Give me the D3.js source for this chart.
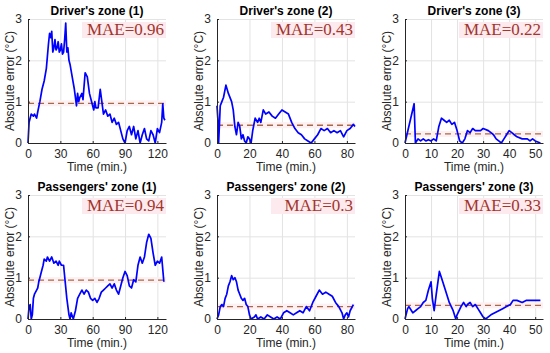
<!DOCTYPE html>
<html lang="en">
<head>
<meta charset="UTF-8">
<title>Absolute error per zone</title>
<script src="https://cdn.jsdelivr.net/npm/d3@7"></script>
<style>
  body { margin: 0; background: #fff; }
  text { font-family: "Liberation Sans", Arial, sans-serif; }
</style>
</head>
<body>
<script>
// panel titles, MAE values and x ranges (row by row)
var titles = ["Driver's zone (1)", "Driver's zone (2)", "Driver's zone (3)",
              "Passengers' zone (1)", "Passengers' zone (2)", "Passengers' zone (3)"];
var maeValues = [0.96, 0.43, 0.22, 0.94, 0.3, 0.33];
var xMax = [128, 85, 53, 128, 85, 53];
var xTicks = [[0, 30, 60, 90, 120], [0, 20, 40, 60, 80], [0, 10, 20, 30, 40, 50]];
var yTicks = [0, 1, 2, 3];

// absolute error traces
var d1Time = [0, 1, 3, 5, 6, 8, 9, 11, 13, 15, 17, 19, 20, 21, 22, 23, 24, 25, 26, 27, 28, 29, 30, 31, 32, 33, 34, 35, 36, 37, 38, 39, 41, 43, 45, 46, 47, 48, 50, 51, 53, 55, 57, 59, 61, 62, 63, 65, 67, 68, 70, 72, 74, 76, 78, 80, 82, 84, 86, 88, 90, 92, 94, 96, 98, 100, 102, 104, 106, 108, 110, 112, 114, 116, 118, 120, 122, 124, 125, 126, 127];
var d1Err  = [0, 0.5, 0.7, 0.65, 0.7, 0.6, 0.75, 1.0, 1.3, 1.5, 1.8, 2.4, 2.65, 2.55, 2.7, 2.2, 2.3, 2.5, 2.25, 2.3, 2.45, 2.2, 2.25, 2.4, 2.15, 2.2, 2.5, 2.9, 2.2, 2.3, 2.0, 1.9, 1.6, 1.3, 0.9, 1.2, 1.0, 1.1, 1.2, 1.05, 1.7, 1.6, 1.2, 1.0, 0.8, 1.0, 0.85, 0.85, 1.3, 1.1, 0.7, 0.8, 0.65, 0.7, 0.5, 0.6, 0.45, 0.5, 0.3, 0.1, 0.0, 0.3, 0.4, 0.2, 0.4, 0.1, 0.3, 0.0, 0.2, 0.35, 0.1, 0.05, 0.3, 0.2, 0.0, 0.35, 0.25, 0.5, 0.95, 0.6, 0.55];

var d2Time = [0, 0.5, 1, 2, 3, 4, 5.5, 7, 9, 10, 11, 12, 13, 14, 15, 16, 17, 18, 19, 20, 21, 22, 23.5, 25, 26, 27, 28.5, 30, 32, 34, 36, 38, 40, 42, 44, 46, 48, 50, 52, 54, 56, 58, 60, 62, 64, 66, 68, 70, 72, 74, 76, 78, 80, 82, 84, 85];
var d2Err  = [0.9, 0.6, 0, 0.9, 1.0, 1.1, 1.4, 1.2, 1.0, 0.8, 0.4, 0.2, 0.5, 0.4, 0.1, 0.2, 0.05, 0.0, 0.15, 0.1, 0.0, 0.3, 0.6, 0.5, 0.6, 0.5, 0.8, 0.7, 0.75, 0.65, 0.6, 0.7, 0.8, 0.75, 0.7, 0.5, 0.35, 0.25, 0.2, 0.1, 0.05, 0.0, 0.1, 0.2, 0.35, 0.3, 0.35, 0.25, 0.3, 0.25, 0.3, 0.15, 0.3, 0.35, 0.45, 0.4];

var d3Time = [0, 3.5, 4, 5, 6, 7, 8, 9, 10, 11, 12, 13, 14, 15, 16, 17, 18, 19, 20, 21, 22, 23, 24, 25, 26, 27, 29, 30, 32, 33, 34, 35, 36, 37, 38, 39, 40, 41, 42, 43, 45, 47, 48, 49, 50, 52];
var d3Err  = [0, 0.95, 0, 0.1, 0.05, 0.1, 0.05, 0.08, 0.05, 0.1, 0.05, 0.4, 0.6, 0.55, 0.5, 0.55, 0.45, 0.5, 0.3, 0.05, 0.0, 0.1, 0.3, 0.25, 0.35, 0.3, 0.3, 0.35, 0.3, 0.25, 0.2, 0.1, 0.05, 0.0, 0.1, 0.2, 0.3, 0.25, 0.2, 0.15, 0.1, 0.1, 0.05, 0.1, 0.05, 0.0];

var p1Time = [0, 1, 2, 3, 4, 5, 6, 8, 9, 10, 11, 12, 14, 15, 17, 18, 20, 22, 24, 26, 28, 29, 31, 33, 34.5, 36, 38, 39, 40, 42, 44, 46, 48, 50, 52, 54, 56, 58, 60, 62, 64, 66, 68, 70, 72, 74, 76, 78, 80, 82, 84, 86, 88, 90, 92, 94, 96, 98, 100, 102, 104, 106, 108, 110, 112, 114, 116, 118, 120, 122, 124, 125, 126];
var p1Err  = [0, 0.3, 0.35, 0.0, 0.1, 0.5, 0.6, 0.7, 0.75, 0.9, 1.0, 1.1, 1.3, 1.45, 1.4, 1.5, 1.4, 1.5, 1.35, 1.4, 1.3, 1.4, 1.3, 1.3, 0.9, 0.5, 0.1, 0.0, 0.15, 0.0, 0.2, 0.5, 0.6, 0.7, 0.6, 0.7, 0.65, 0.5, 0.45, 0.5, 0.4, 0.5, 0.65, 0.7, 0.75, 0.8, 0.85, 0.75, 0.85, 0.7, 0.6, 0.8, 1.0, 1.15, 1.05, 0.8, 0.75, 0.95, 0.9, 1.3, 1.5, 1.35, 1.5, 1.85, 2.05, 1.95, 1.6, 1.3, 1.4, 1.35, 1.5, 1.2, 0.9];

var p2Time = [0, 1, 2, 3, 4, 5, 6, 7, 8, 9, 10, 11, 12, 13, 14, 15, 16, 17, 18, 19, 20, 21, 23, 24, 25, 27, 29, 31, 33, 35, 37, 39, 41, 43, 45, 47, 49, 51, 53, 55, 57, 59, 61, 63, 65, 67, 69, 71, 73, 75, 77, 78, 79, 80, 81, 82, 84];
var p2Err  = [0, 0.1, 0.3, 0.35, 0.3, 0.5, 0.6, 0.8, 0.9, 1.05, 0.95, 1.0, 0.9, 0.7, 0.6, 0.5, 0.45, 0.5, 0.35, 0.3, 0.1, 0.0, 0.05, 0.1, 0.0, 0.05, 0.0, 0.1, 0.05, 0.0, 0.05, 0.0, 0.15, 0.2, 0.15, 0.1, 0.15, 0.2, 0.15, 0.3, 0.2, 0.4, 0.55, 0.7, 0.6, 0.65, 0.6, 0.55, 0.4, 0.3, 0.15, 0.0, 0.1, 0.15, 0.05, 0.2, 0.35];

var p3Time = [0, 1, 1.5, 2.5, 3, 4, 5, 6, 7, 8, 9, 10, 10.5, 11.2, 12, 13.2, 14, 15.5, 17, 18.5, 19.5, 20, 21.5, 22.5, 23.5, 24, 25, 26, 27, 28, 29, 30, 31, 32, 33, 34.5, 36, 37.5, 39, 40.5, 41.5, 43, 45, 46.5, 48, 50, 52];
var p3Err  = [0, 0.25, 0.3, 0.2, 0.15, 0.2, 0.25, 0.3, 0.4, 0.45, 0.7, 0.9, 0.5, 0.2, 0.6, 1.15, 1.0, 0.7, 0.4, 0.2, 0.0, 0.1, 0.3, 0.4, 0.3, 0.35, 0.4, 0.3, 0.35, 0.25, 0.15, 0.05, 0.0, 0.05, 0.1, 0.15, 0.2, 0.25, 0.3, 0.35, 0.45, 0.45, 0.4, 0.45, 0.45, 0.45, 0.45];

var times = [d1Time, d2Time, d3Time, p1Time, p2Time, p3Time];
var errors = [d1Err, d2Err, d3Err, p1Err, p2Err, p3Err];

var colLeft = [28, 217, 405];
var rowTop = [19, 195];
var plotW = 138, plotH = 124;

var svg = d3.select('body').append('svg')
    .attr('width', 550)
    .attr('height', 353);

titles.forEach(function (title, i) {
    var col = i % 3, row = Math.floor(i / 3);
    var x = d3.scaleLinear().domain([0, xMax[i]]).range([0, plotW]);
    var y = d3.scaleLinear().domain([0, 3]).range([plotH, 0]);

    var g = svg.append('g')
        .attr('transform', `translate(${colLeft[col]}, ${rowTop[row]})`);

    g.append('clipPath').attr('id', 'clip' + i)
        .append('rect').attr('x', -1).attr('y', -2).attr('width', plotW + 2).attr('height', plotH + 3);

    // grid
    g.append('g')
        .attr('transform', `translate(0, ${plotH})`)
        .call(d3.axisBottom(x).tickValues(xTicks[col]).tickSize(-plotH).tickFormat(''))
        .call(a => a.select('.domain').remove())
        .selectAll('line').attr('stroke', '#e3e3e3');
    g.append('g')
        .call(d3.axisLeft(y).tickValues(yTicks).tickSize(-plotW).tickFormat(''))
        .call(a => a.select('.domain').remove())
        .selectAll('line').attr('stroke', '#e3e3e3');

    // pinkish tint around the MAE level and behind the label
    g.append('rect')
        .attr('x', 0).attr('width', plotW)
        .attr('y', y(maeValues[i]) - 3).attr('height', 6)
        .attr('fill', '#fdf0f2');
    g.append('rect')
        .attr('x', plotW - 84).attr('width', 84)
        .attr('y', 3).attr('height', 16)
        .attr('fill', '#fdeaee');

    // MAE level
    g.append('line')
        .attr('x1', 0).attr('x2', plotW)
        .attr('y1', y(maeValues[i])).attr('y2', y(maeValues[i]))
        .attr('stroke', '#aa6848')
        .attr('stroke-width', 1.3)
        .attr('stroke-dasharray', '6,4');

    // error trace
    var pts = times[i].map((t, k) => [t, errors[i][k]]);
    g.append('path')
        .datum(pts)
        .attr('clip-path', `url(#clip${i})`)
        .attr('fill', 'none')
        .attr('stroke', '#0000ff')
        .attr('stroke-width', 1.7)
        .attr('stroke-linejoin', 'round')
        .attr('d', d3.line().x(d => x(d[0])).y(d => y(d[1])));

    // axes
    var xa = g.append('g')
        .attr('transform', `translate(0, ${plotH})`)
        .call(d3.axisBottom(x).tickValues(xTicks[col]).tickFormat(d3.format('d'))
            .tickSizeInner(-2).tickSizeOuter(0).tickPadding(6));
    var ya = g.append('g')
        .call(d3.axisLeft(y).tickValues(yTicks).tickFormat(d3.format('d'))
            .tickSizeInner(-2).tickSizeOuter(0).tickPadding(6));
    [xa, ya].forEach(function (a) {
        a.select('.domain').attr('stroke', '#262626');
        a.selectAll('line').attr('stroke', '#262626');
        a.selectAll('text').attr('fill', '#262626').style('font-size', '12px')
            .style('font-family', '"Liberation Sans", Arial, sans-serif');
    });

    g.append('text')
        .text(title)
        .attr('x', plotW / 2)
        .attr('y', -4)
        .attr('text-anchor', 'middle')
        .style('font-size', '12px')
        .style('font-weight', 'bold')
        .attr('fill', '#000');

    g.append('text')
        .text('MAE=' + maeValues[i])
        .attr('x', plotW - 2)
        .attr('y', 16)
        .attr('text-anchor', 'end')
        .style('font-family', '"Liberation Serif", "Times New Roman", serif')
        .style('font-size', '17px')
        .attr('fill', '#a2352c');

    g.append('text')
        .text('Time (min.)')
        .attr('x', plotW / 2)
        .attr('y', plotH + 28)
        .attr('text-anchor', 'middle')
        .style('font-size', '12px')
        .attr('fill', '#262626');

    g.append('text')
        .text('Absolute error (°C)')
        .attr('transform', 'rotate(-90)')
        .attr('x', -plotH / 2)
        .attr('y', -14)
        .attr('text-anchor', 'middle')
        .style('font-size', '12px')
        .attr('fill', '#262626');
});
</script>
</body>
</html>
